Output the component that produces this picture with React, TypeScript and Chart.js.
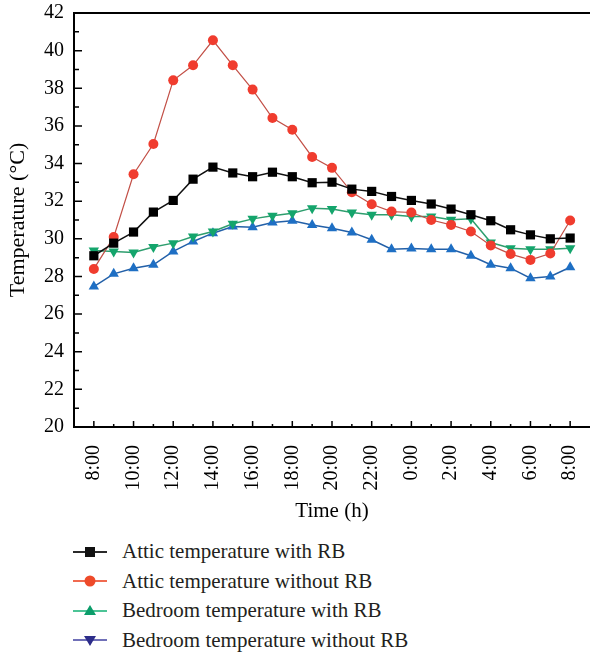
import React, { useEffect, useRef } from 'react';
import { Chart, registerables } from 'chart.js';

Chart.register(...registerables);

const hourCategories = [
  '8:00', '9:00', '10:00', '11:00', '12:00', '13:00', '14:00', '15:00', '16:00',
  '17:00', '18:00', '19:00', '20:00', '21:00', '22:00', '23:00', '0:00', '1:00',
  '2:00', '3:00', '4:00', '5:00', '6:00', '7:00', '8:00',
];

const atticWithRB = [
  29.1, 29.77, 30.36, 31.42, 32.04, 33.17, 33.81, 33.5, 33.3, 33.54, 33.3, 32.98, 33.01,
  32.64, 32.52, 32.25, 32.04, 31.85, 31.58, 31.28, 30.96, 30.48, 30.21, 30.0, 30.04,
];
const atticWithoutRB = [
  28.4, 30.09, 33.43, 35.04, 38.42, 39.22, 40.55, 39.22, 37.93, 36.42, 35.8, 34.35, 33.77,
  32.47, 31.84, 31.45, 31.4, 31.0, 30.74, 30.39, 29.65, 29.19, 28.88, 29.22, 30.97,
];
const bedroomWithRB = [
  29.38, 29.33, 29.27, 29.56, 29.77, 30.12, 30.39, 30.8, 31.06, 31.22, 31.36, 31.63, 31.58,
  31.4, 31.28, 31.28, 31.19, 31.19, 31.01, 31.06, 29.8, 29.5, 29.45, 29.45, 29.5,
];
const bedroomWithoutRB = [
  27.46, 28.14, 28.44, 28.62, 29.33, 29.86, 30.3, 30.65, 30.62, 30.87, 30.96, 30.74, 30.56,
  30.34, 29.95, 29.45, 29.48, 29.45, 29.45, 29.1, 28.62, 28.44, 27.91, 28.0, 28.49,
];

const seriesNames = [
  'Attic temperature with RB',
  'Attic temperature without RB',
  'Bedroom temperature with RB',
  'Bedroom temperature without RB',
];

const FONT = '"Liberation Serif", "Times New Roman", serif';

const toXY = (arr: number[]) => arr.map((v, i) => ({ x: i, y: v }));

const framePlugin = {
  id: 'frameTicks',
  afterDraw(chart: any) {
    const { ctx, chartArea: a, scales } = chart;
    const x = scales.x;
    const y = scales.y;
    ctx.save();
    ctx.strokeStyle = '#000';
    ctx.lineWidth = 1.5;
    ctx.beginPath();
    for (let i = 0; i < hourCategories.length; i++) {
      const px = x.getPixelForValue(i);
      const len = i % 2 === 0 ? 6 : 3;
      ctx.moveTo(px, a.bottom);
      ctx.lineTo(px, a.bottom - len);
    }
    for (let v = 21; v < 42; v++) {
      const py = y.getPixelForValue(v);
      const len = v % 2 === 0 ? 8 : 5;
      ctx.moveTo(a.left, py);
      ctx.lineTo(a.left + len, py);
    }
    ctx.stroke();
    ctx.lineWidth = 2;
    ctx.beginPath();
    ctx.moveTo(a.left, a.top);
    ctx.lineTo(a.right, a.top);
    ctx.stroke();
    ctx.restore();
  },
};

function LegendMarker({ kind, line, fill }: { kind: string; line: string; fill: string }) {
  let marker: any = null;
  if (kind === 'square') marker = <rect x={12} y={5} width={10} height={10} fill={fill} />;
  if (kind === 'circle') marker = <circle cx={17} cy={10} r={5.5} fill={fill} />;
  if (kind === 'up') marker = <polygon points="17,4 23,14 11,14" fill={fill} />;
  if (kind === 'down') marker = <polygon points="11,6 23,6 17,16" fill={fill} />;
  return (
    <svg width={49} height={20} style={{ display: 'block', flex: '0 0 auto' }}>
      <line x1={0} y1={10} x2={34} y2={10} stroke={line} strokeWidth={2} />
      {marker}
    </svg>
  );
}

const legendStyles = [
  { kind: 'square', line: '#2a2a2a', fill: '#111111' },
  { kind: 'circle', line: '#f06a50', fill: '#ee4a2a' },
  { kind: 'up', line: '#4cc496', fill: '#0b9d6a' },
  { kind: 'down', line: '#7070b8', fill: '#2d2d8a' },
];

export default function App() {
  const canvasRef = useRef<HTMLCanvasElement | null>(null);

  useEffect(() => {
    document.body.style.margin = '0';
    const canvas = canvasRef.current;
    if (!canvas) return;
    const chart = new Chart(canvas, {
      type: 'line',
      data: {
        datasets: [
          {
            label: seriesNames[0],
            data: toXY(atticWithRB),
            borderColor: '#111111',
            backgroundColor: '#000000',
            borderWidth: 1.5,
            pointStyle: 'rect',
            pointRadius: 6.5,
            pointBorderWidth: 0,
          },
          {
            label: seriesNames[1],
            data: toXY(atticWithoutRB),
            borderColor: '#c24f46',
            backgroundColor: '#f03c2e',
            borderWidth: 1.2,
            pointStyle: 'circle',
            pointRadius: 5,
            pointBorderWidth: 0,
          },
          {
            label: seriesNames[2],
            data: toXY(bedroomWithRB),
            borderColor: '#2e9e6e',
            backgroundColor: '#14a56c',
            borderWidth: 1.5,
            pointStyle: 'triangle',
            pointRotation: 180,
            pointRadius: 6,
            pointBorderWidth: 0,
          },
          {
            label: seriesNames[3],
            data: toXY(bedroomWithoutRB),
            borderColor: '#2360a8',
            backgroundColor: '#1e6fc4',
            borderWidth: 1.5,
            pointStyle: 'triangle',
            pointRadius: 6,
            pointBorderWidth: 0,
          },
        ],
      },
      options: {
        animation: false,
        responsive: false,
        maintainAspectRatio: false,
        layout: { autoPadding: false, padding: { top: 13, right: 0, bottom: 0, left: 0 } },
        plugins: { legend: { display: false }, tooltip: { enabled: false } },
        elements: { line: { tension: 0 } },
        scales: {
          x: {
            type: 'linear',
            min: -1,
            max: 25,
            grid: { display: true, drawOnChartArea: false, drawTicks: false },
            border: { display: true, color: '#000', width: 2 },
            ticks: {
              stepSize: 1,
              autoSkip: false,
              maxRotation: 90,
              minRotation: 90,
              padding: 18,
              color: '#000',
              font: { family: FONT, size: 20 },
              callback: (v: any) => {
                const i = Number(v);
                if (Number.isInteger(i) && i >= 0 && i < hourCategories.length && i % 2 === 0) return hourCategories[i];
                return '';
              },
            },
            title: {
              display: true,
              text: 'Time (h)',
              color: '#000',
              font: { family: FONT, size: 21 },
              padding: { top: 0, bottom: 6 },
            },
            afterFit: (s: any) => {
              s.height = 103;
              s.paddingLeft = 0;
              s.paddingRight = 0;
            },
          },
          y: {
            min: 20,
            max: 42,
            grid: { display: true, drawOnChartArea: false, drawTicks: false },
            border: { display: true, color: '#000', width: 2 },
            ticks: {
              stepSize: 2,
              padding: 10,
              color: '#000',
              font: { family: FONT, size: 20 },
            },
            title: {
              display: true,
              text: 'Temperature (°C)',
              color: '#000',
              font: { family: FONT, size: 22 },
              padding: { top: 5, bottom: 0 },
            },
            afterFit: (s: any) => {
              s.width = 74;
              s.paddingTop = 0;
              s.paddingBottom = 0;
            },
          },
        },
      },
      plugins: [framePlugin],
    } as any);
    return () => chart.destroy();
  }, []);

  return (
    <div style={{ position: 'relative', width: 590, height: 657, background: '#fff' }}>
      <canvas ref={canvasRef} width={590} height={530} style={{ display: 'block', width: 590, height: 530 }} />
      <div style={{ position: 'absolute', left: 73, top: 537 }}>
        {seriesNames.map((name, i) => (
          <div key={name} style={{ display: 'flex', alignItems: 'center', height: 29.5 }}>
            <LegendMarker {...legendStyles[i]} />
            <span style={{ fontFamily: FONT, fontSize: 21, color: '#231f20', whiteSpace: 'nowrap' }}>{name}</span>
          </div>
        ))}
      </div>
    </div>
  );
}
